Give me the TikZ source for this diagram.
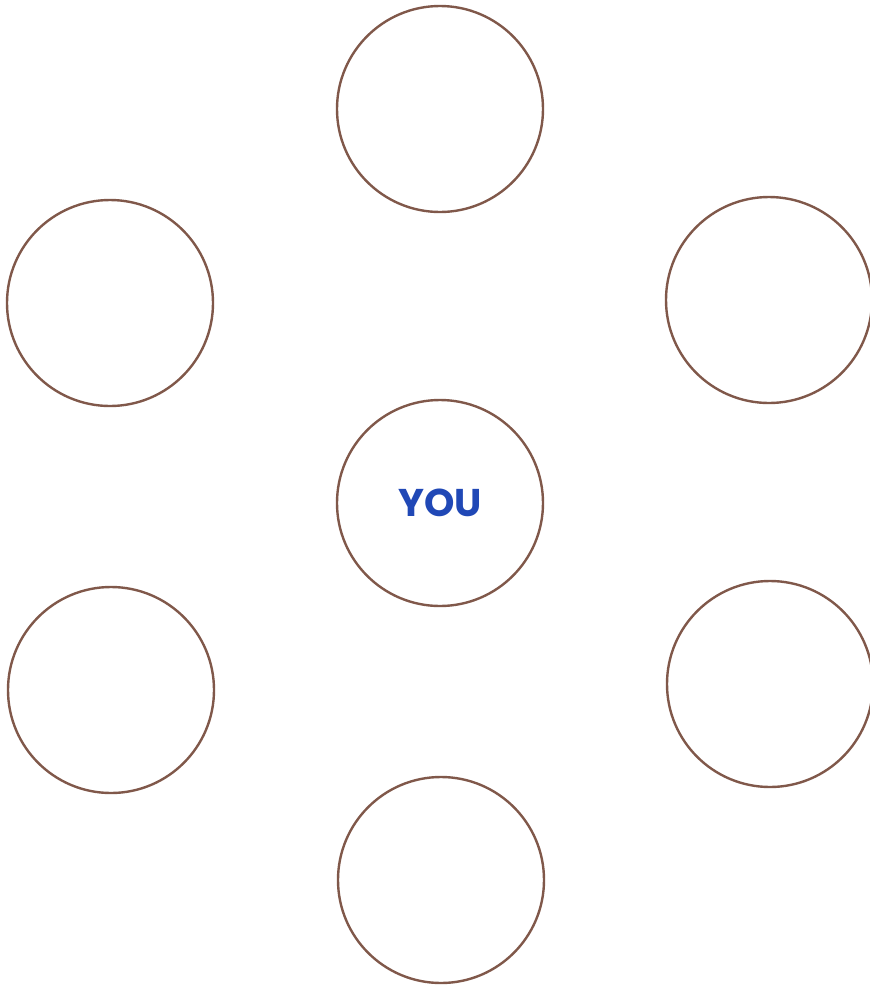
\documentclass[tikz,border=0pt]{standalone}
\usepackage{fontspec}
\newfontfamily\youfont{Poppins}
\definecolor{ringbrown}{RGB}{128,88,74}
\definecolor{youblue}{RGB}{32,72,182}
\begin{document}
\begin{tikzpicture}[x=0.75pt,y=-0.75pt,
  ring/.style={circle,draw=ringbrown,line width=1.8pt,minimum size=206*0.75pt,inner sep=0pt}]
\useasboundingbox (0,0) rectangle (870,986);
\node[ring] (top) at (440,109) {};
\node[ring] (lu) at (110,303) {};
\node[ring] (ru) at (769,300) {};
\node[ring] (you) at (440,503) {\youfont\bfseries\fontsize{29}{29}\selectfont\color{youblue}YOU};
\node[ring] (ll) at (111,690) {};
\node[ring] (rl) at (770,684) {};
\node[ring] (bot) at (441,880) {};
\end{tikzpicture}
\end{document}
